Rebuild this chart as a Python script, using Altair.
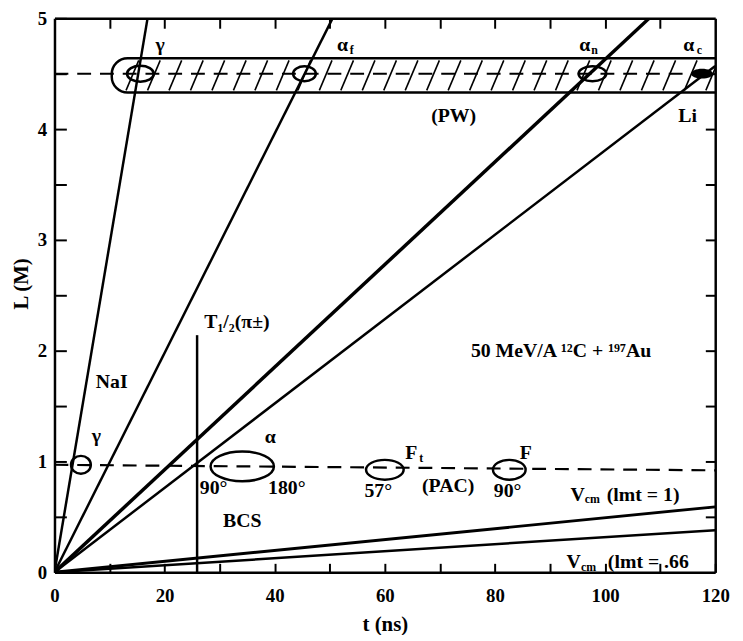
import altair as alt
import pandas as pd

# ------------------------------------------------------------------ data
# straight rays L = v * t from the origin (end points)
ray_names = ["gamma", "alpha_f", "alpha_n", "alpha_c", "vcm_1", "vcm_066"]
ray_end_t = [16.9, 50.5, 108.0, 120.0, 120.0, 120.0]
ray_end_L = [5.0, 5.0, 5.0, 4.57, 0.59, 0.38]

# pion half-life marker
t_half = 25.9
t_half_top = 2.14

# dashed detector distances
pw_t = [0.0, 120.0]
pw_L = [4.5, 4.5]
pac_t = [0.0, 120.0]
pac_L = [0.97, 0.92]

# hatched PW band
band_t = [10.4, 126.0]
band_L = [4.33, 4.64]

# ellipses (time windows)
ell_names = ["g_pw", "af_pw", "an_pw", "g_nai", "bcs", "ft_pac", "f_pac"]
ell_t = [15.6, 45.4, 97.7, 4.8, 34.1, 60.0, 82.6]
ell_L = [4.5, 4.5, 4.5, 0.97, 0.955, 0.925, 0.925]
ell_fill_t = [117.6]
ell_fill_L = [4.5]

# annotation labels
lab_text = ["γ", "α", "α", "α", "(PW)", "Li", "50 MeV/A ¹²C + ¹⁹⁷Au", "NaI", "γ", "α",
            "90°", "180°", "BCS", "F", "F", "57°", "(PAC)", "90°", "V", "V"]
lab_t = [19.2, 52.3, 96.3, 115.2, 72.5, 115.0, 92.0, 10.4, 7.6, 39.2,
         28.9, 42.2, 34.1, 64.8, 85.6, 58.8, 71.5, 82.3, 95.0, 94.3]
lab_L = [4.76, 4.76, 4.76, 4.76, 4.12, 4.12, 2.0, 1.72, 1.23, 1.22,
         0.76, 0.76, 0.46, 1.08, 1.08, 0.73, 0.78, 0.73, 0.70, 0.09]

sub_text = ["f", "n", "c", "t", "cm", "cm"]
sub_t = [54.0, 98.1, 117.1, 66.6, 97.7, 97.0]
sub_L = [4.71, 4.71, 4.71, 1.03, 0.66, 0.05]

left_text = ["T₁/₂(π±)", "(lmt = 1)", "(lmt = .66"]
left_t = [27.2, 100.3, 100.5]
left_L = [2.26, 0.70, 0.09]

x_ticks = [0, 10, 20, 30, 40, 50, 60, 70, 80, 90, 100, 110, 120]
y_ticks = [0, 0.5, 1, 1.5, 2, 2.5, 3, 3.5, 4, 4.5, 5]

# ------------------------------------------------------------------ styling
W, H = 668, 560
FONT = "Liberation Serif"
ray_width = {"gamma": 2.5, "alpha_f": 2.5, "alpha_n": 3.5, "alpha_c": 2.5, "vcm_1": 3.0, "vcm_066": 2.5}
ell_w = {"g_pw": 27, "af_pw": 23, "an_pw": 28, "g_nai": 20, "bcs": 64, "ft_pac": 38, "f_pac": 33}
ell_h = {"g_pw": 16, "af_pw": 15, "an_pw": 15, "g_nai": 18, "bcs": 30, "ft_pac": 20, "f_pac": 20}


def ell_path(ratio):
    return f"M-1,0A1,{ratio:.3f},0,1,0,1,0A1,{ratio:.3f},0,1,0,-1,0Z"


xs = alt.Scale(domain=[0, 120], nice=False, zero=False)
ys = alt.Scale(domain=[0, 5], nice=False, zero=False)

# ------------------------------------------------------------------ frames
rays = pd.DataFrame(
    [{"ray": n, "t": 0.0, "L": 0.0, "w": ray_width[n]} for n in ray_names]
    + [{"ray": n, "t": t, "L": L, "w": ray_width[n]} for n, t, L in zip(ray_names, ray_end_t, ray_end_L)]
)
ell = pd.DataFrame({"name": ell_names, "t": ell_t, "L": ell_L})
ell["size"] = [ell_w[n] ** 2 for n in ell_names]
ell["shape"] = [ell_path(ell_h[n] / ell_w[n]) for n in ell_names]
ell_f = pd.DataFrame({"t": ell_fill_t, "L": ell_fill_L})

hatch_start = [13.0 + 3.9 * i for i in range(28)]
hatch = pd.DataFrame({"t": hatch_start, "t2": [h + 2.3 for h in hatch_start],
                      "L": [band_L[0] + 0.02] * len(hatch_start),
                      "L2": [band_L[1] - 0.02] * len(hatch_start)})
band = pd.DataFrame({"t": [band_t[0]], "t2": [band_t[1]], "L": [band_L[0]], "L2": [band_L[1]]})
dash = pd.DataFrame({"line": ["pw", "pw", "pac", "pac"], "t": pw_t + pac_t, "L": pw_L + pac_L})
thalf = pd.DataFrame({"t": [t_half], "L": [0.0], "L2": [t_half_top]})
labs = pd.DataFrame({"txt": lab_text, "t": lab_t, "L": lab_L})
subs = pd.DataFrame({"txt": sub_text, "t": sub_t, "L": sub_L})
lefts = pd.DataFrame({"txt": left_text, "t": left_t, "L": left_L})

# ------------------------------------------------------------------ axes
ax_x_main = alt.Axis(
    orient="top", offset=-H, values=x_ticks, tickSize=9, tickWidth=2, tickColor="black",
    domainColor="black", domainWidth=2.5, labelPadding=-24, labelBaseline="top",
    labelExpr="datum.value % 20 === 0 ? format(datum.value, 'd') : ''",
    labelFlush=False, labelOverlap=False, labelFont=FONT, labelFontSize=19,
    labelFontWeight="bold", labelColor="black", grid=False,
    title="t (ns)", titleFont=FONT, titleFontSize=21, titleFontWeight="bold",
    titleColor="black", titleX=W / 2, titleY=53, titleAlign="center", titleBaseline="middle",
)
ax_y_main = alt.Axis(
    orient="right", offset=-W, values=y_ticks, tickSize=12, tickWidth=2, tickColor="black",
    domainColor="black", domainWidth=2.5, labelPadding=-20, labelAlign="right",
    labelBaseline="middle",
    labelExpr="datum.value % 1 === 0 ? format(datum.value, 'd') : ''",
    labelFlush=False, labelOverlap=False, labelFont=FONT, labelFontSize=19,
    labelFontWeight="bold", labelColor="black", grid=False,
    title="L (M)", titleFont=FONT, titleFontSize=21, titleFontWeight="bold",
    titleColor="black", titleAngle=270, titleX=-33, titleY=268,
    titleAlign="center", titleBaseline="middle",
)
ax_x_top = alt.Axis(
    orient="bottom", offset=-H, values=x_ticks[1:-1], tickSize=10, tickWidth=2,
    tickColor="black", domainColor="black", domainWidth=2.5, labels=False,
    grid=False, title=None,
)
ax_y_right = alt.Axis(
    orient="left", offset=-W, values=y_ticks[1:-1], tickSize=10, tickWidth=2,
    tickColor="black", domainColor="black", domainWidth=2.5, labels=False,
    grid=False, title=None,
)

# ------------------------------------------------------------------ layers
band_layer = alt.Chart(band).mark_rect(
    fill="white", fillOpacity=0, stroke="black", strokeWidth=2.5, cornerRadius=16, clip=True
).encode(
    x=alt.X("t:Q", scale=xs, axis=None), x2="t2:Q",
    y=alt.Y("L:Q", scale=ys, axis=None), y2="L2:Q",
)
hatch_layer = alt.Chart(hatch).mark_rule(color="black", strokeWidth=1.6, clip=True).encode(
    x=alt.X("t:Q", scale=xs, axis=None), x2="t2:Q",
    y=alt.Y("L:Q", scale=ys, axis=None), y2="L2:Q",
)
dash_layer = alt.Chart(dash).mark_line(
    color="black", strokeWidth=2.2, strokeDash=[14, 9]
).encode(
    x=alt.X("t:Q", scale=xs, axis=None), y=alt.Y("L:Q", scale=ys, axis=None), detail="line:N",
)
ray_layer = alt.Chart(rays).mark_line(color="black", clip=True).encode(
    x=alt.X("t:Q", scale=xs, axis=ax_x_main),
    y=alt.Y("L:Q", scale=ys, axis=ax_y_main),
    detail="ray:N",
    strokeWidth=alt.StrokeWidth("w:Q", scale=None),
)
thalf_layer = alt.Chart(thalf).mark_rule(color="black", strokeWidth=2.5).encode(
    x=alt.X("t:Q", scale=xs, axis=ax_x_top),
    y=alt.Y("L:Q", scale=ys, axis=ax_y_right), y2="L2:Q",
)
ell_layer = alt.Chart(ell).mark_point(filled=False, color="black", strokeWidth=2.5, opacity=1).encode(
    x=alt.X("t:Q", scale=xs, axis=None), y=alt.Y("L:Q", scale=ys, axis=None),
    size=alt.Size("size:Q", scale=None),
    shape=alt.Shape("shape:N", scale=None),
)
ell_f_layer = alt.Chart(ell_f).mark_point(
    filled=True, color="black", opacity=1, size=22 * 22, shape=ell_path(0.45), clip=True
).encode(
    x=alt.X("t:Q", scale=xs, axis=None), y=alt.Y("L:Q", scale=ys, axis=None),
)
lab_layer = alt.Chart(labs).mark_text(font=FONT, fontSize=20, fontWeight="bold", color="black").encode(
    x=alt.X("t:Q", scale=xs, axis=None), y=alt.Y("L:Q", scale=ys, axis=None), text="txt:N",
)
sub_layer = alt.Chart(subs).mark_text(font=FONT, fontSize=12, fontWeight="bold", color="black").encode(
    x=alt.X("t:Q", scale=xs, axis=None), y=alt.Y("L:Q", scale=ys, axis=None), text="txt:N",
)
left_layer = alt.Chart(lefts).mark_text(font=FONT, fontSize=20, fontWeight="bold", color="black", align="left").encode(
    x=alt.X("t:Q", scale=xs, axis=None), y=alt.Y("L:Q", scale=ys, axis=None), text="txt:N",
)

chart = alt.layer(
    band_layer, hatch_layer, dash_layer, ray_layer, thalf_layer,
    ell_layer, ell_f_layer, lab_layer, sub_layer, left_layer,
).resolve_axis(x="independent", y="independent").properties(
    width=W, height=H,
    padding={"left": 47, "top": 7, "right": 20, "bottom": 60},
    autosize=alt.AutoSizeParams(type="none"),
).configure_view(stroke=None).configure(background="white")

chart.save("out.html", embed_options={"renderer": "svg", "actions": False})
